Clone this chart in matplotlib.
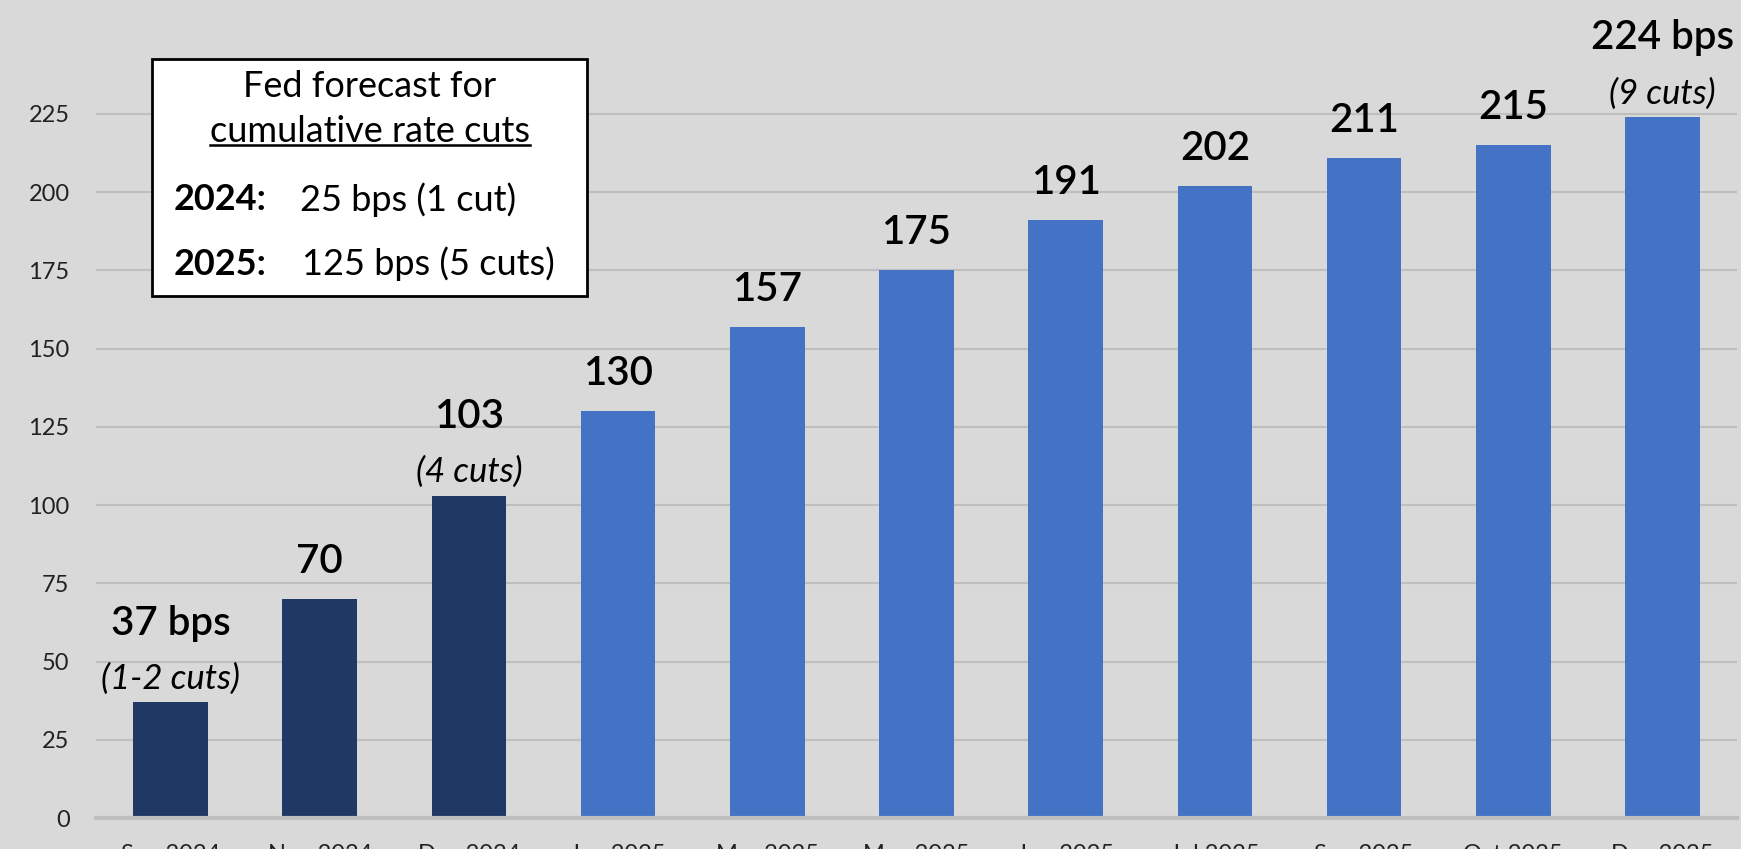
import matplotlib.pyplot as plt
from matplotlib.patches import Rectangle
from matplotlib.lines import Line2D

plt.rcParams['font.family'] = ['Lato', 'DejaVu Sans']

# data
meses = ["Sep 2024", "Nov 2024", "Dec 2024", "Jan 2025", "Mar 2025", "May 2025",
         "Jun 2025", "Jul 2025", "Sep 2025", "Oct 2025", "Dec 2025"]
valores = [37, 70, 103, 130, 157, 175, 191, 202, 211, 215, 224]
etiquetas = ["37 bps", "70", "103", "130", "157", "175", "191", "202", "211", "215", "224 bps"]
notas = {0: "(1-2 cuts)", 2: "(4 cuts)", 10: "(9 cuts)"}
n_2024 = 3

oscuro = "#203864"
claro = "#4472C4"
fondo = "#D9D9D9"
gris = "#BFBFBF"

fig = plt.figure(figsize=(17.41, 8.49), dpi=100, facecolor=fondo)
ax = fig.add_axes([0.0551, 0.0365, 0.9426, 0.9635])
ax.set_facecolor(fondo)

colores = [oscuro if i < n_2024 else claro for i in range(len(valores))]
x = list(range(len(valores)))
ax.bar(x, valores, width=0.5, color=colores, zorder=3)

ax.set_xlim(-0.5, len(valores) - 0.5)
ax.set_ylim(0, 261.4)
ax.set_yticks(range(0, 226, 25))
ax.set_xticks(x)
ax.set_xticklabels(meses)
ax.tick_params(axis='both', length=0, labelsize=17, colors="#222222")
ax.tick_params(axis='y', pad=19)
ax.tick_params(axis='x', pad=19)
ax.grid(axis='y', color=gris, linewidth=1.5, zorder=0)
for s in ["top", "right", "left"]:
    ax.spines[s].set_visible(False)
ax.spines["bottom"].set_color(gris)
ax.spines["bottom"].set_linewidth(3)
ax.spines["bottom"].set_zorder(4)

# etiquetas de valor
for i, v in enumerate(valores):
    if i in notas:
        ax.annotate(etiquetas[i], (i, v), xytext=(0, 57), textcoords="offset points",
                    ha="center", va="center", fontsize=29, fontweight="semibold",
                    color="black", annotation_clip=False)
        ax.annotate(notas[i], (i, v), xytext=(0, 17), textcoords="offset points",
                    ha="center", va="center", fontsize=25, fontstyle="italic",
                    color="black", annotation_clip=False)
    else:
        ax.annotate(etiquetas[i], (i, v), xytext=(0, 27), textcoords="offset points",
                    ha="center", va="center", fontsize=29, fontweight="semibold",
                    color="black")

# cuadro de texto
fig.patches.append(Rectangle((0.0873, 0.6514), 0.2499, 0.2791, transform=fig.transFigure,
                             facecolor="white", edgecolor="black", linewidth=2, zorder=5))
fig.text(0.2125, 0.898, "Fed forecast for", ha="center", va="center", fontsize=26, zorder=6)
t = fig.text(0.2125, 0.8457, "cumulative rate cuts", ha="center", va="center", fontsize=26, zorder=6)
fig.text(0.100, 0.7645, "2024:", ha="left", va="center", fontsize=26, fontweight="bold", zorder=6)
fig.text(0.1721, 0.7645, "25 bps (1 cut)", ha="left", va="center", fontsize=26, zorder=6)
fig.text(0.100, 0.689, "2025:", ha="left", va="center", fontsize=26, fontweight="bold", zorder=6)
fig.text(0.1734, 0.689, "125 bps (5 cuts)", ha="left", va="center", fontsize=26, zorder=6)

# subrayado
fig.canvas.draw()
bb = t.get_window_extent().transformed(fig.transFigure.inverted())
fig.lines.append(Line2D([bb.x0, bb.x1], [bb.y0 + 0.003, bb.y0 + 0.003], transform=fig.transFigure,
                        color="black", linewidth=1.8, zorder=6))

fig.savefig("out.png", dpi=100, facecolor=fondo)
